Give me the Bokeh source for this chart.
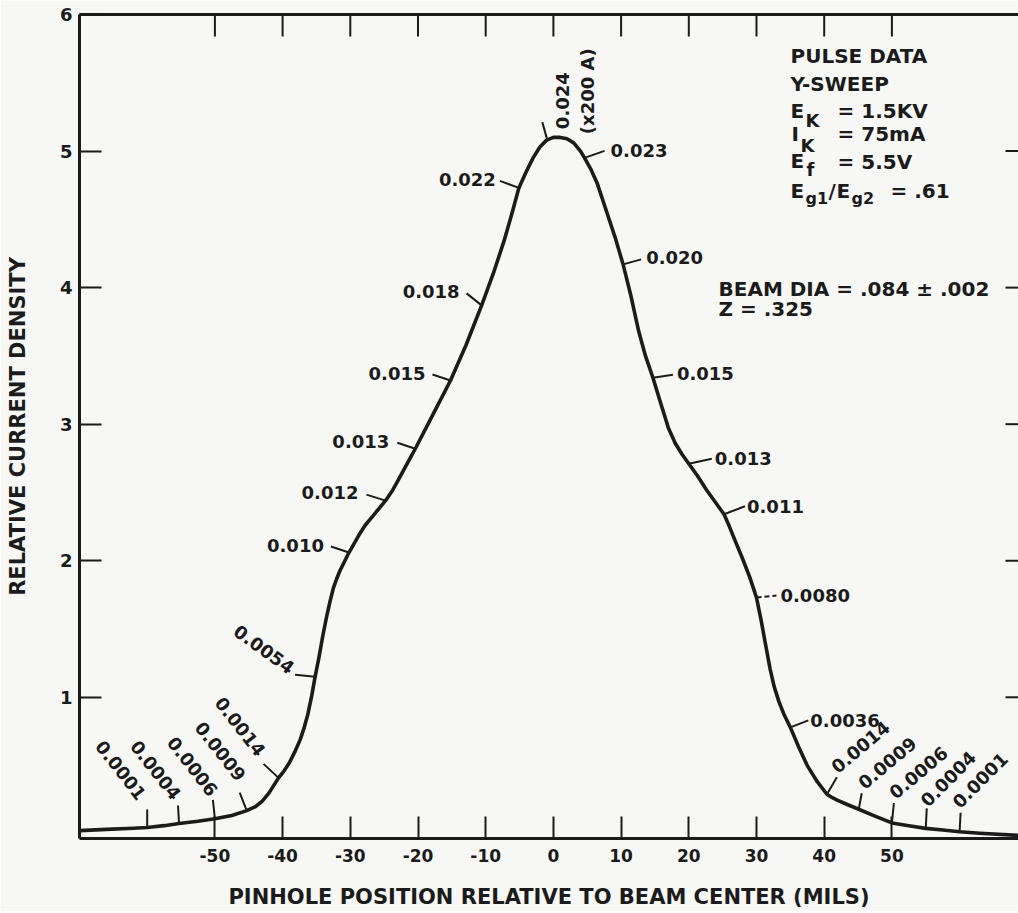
import math
from bokeh.plotting import figure
from bokeh.models import LinearAxis, FixedTicker
from bokeh.embed import file_html
from bokeh.resources import INLINE
from bokeh.core.properties import value

# ---------------- data ----------------
# pinhole position (mils) and relative current density along the measured profile
profile_x = [-70, -66, -62, -60, -57.5, -55.3, -52.5, -50, -47.5, -45.3, -44, -43, -42, -40.6,
             -39.8, -39, -38.2, -37.4, -36.8, -36.3, -35.7, -35.2, -34.6, -34.1, -33.5, -33,
             -32.5, -32, -31.5, -31, -30.2, -29.5, -28.7, -27.8, -26.8, -25.8, -24.8, -23.7,
             -22.6, -21.5, -20.4, -17.8, -15.2, -12.9, -10.6, -8.9, -7.3, -6.2, -5.1, -4, -3, -2,
             -1, 0, 1, 2, 3, 4, 4.6, 5.5, 6.5, 7.9, 9.1, 10.3, 11.4, 12.6, 13.6, 14.7, 16, 17,
             18, 19, 20, 21.3, 22.6, 23.9, 25.2, 26, 26.9, 27.9, 29, 30, 30.7, 31.4, 32, 32.6,
             33.3, 34.1, 35, 36.2, 37.5, 39, 40.4, 41.2, 42, 43.4, 45.1, 47.5, 50, 52.5, 55,
             57.5, 60, 63, 69]
profile_y = [0.024, 0.033, 0.041, 0.046, 0.06, 0.076, 0.092, 0.11, 0.135, 0.17, 0.2, 0.24, 0.3, 0.41,
             0.46, 0.52, 0.60, 0.69, 0.78, 0.87, 1.01, 1.15, 1.30, 1.44, 1.59, 1.70,
             1.80, 1.87, 1.93, 1.98, 2.06, 2.12, 2.19, 2.26, 2.32, 2.38, 2.44, 2.52,
             2.62, 2.72, 2.82, 3.07, 3.32, 3.58, 3.87, 4.10, 4.34, 4.53, 4.73, 4.85, 4.95, 5.03,
             5.08, 5.10, 5.10, 5.09, 5.06, 5.00, 4.95, 4.87, 4.76, 4.55, 4.37, 4.17, 3.95, 3.68,
             3.50, 3.34, 3.13, 2.97, 2.86, 2.78, 2.71, 2.62, 2.52, 2.43, 2.34, 2.25, 2.14, 2.02,
             1.88, 1.73, 1.56, 1.37, 1.21, 1.08, 0.97, 0.87, 0.78, 0.64, 0.50, 0.38, 0.29, 0.265,
             0.245, 0.215, 0.18, 0.13, 0.08, 0.06, 0.04, 0.028, 0.015, 0.005, -0.012]

# measured pinhole currents (x200 A) written along the curve
mark_x = [-60, -55.3, -50, -45.3, -40.6, -35.2, -30.2, -24.8, -20.4, -15.2, -10.6, -5.1, -0.9,
          4.6, 10.3, 14.7, 20, 25.2, 30, 35, 40.4, 45.1, 50, 55, 60]
mark_y = [0.046, 0.076, 0.11, 0.17, 0.41, 1.15, 2.06, 2.44, 2.82, 3.32, 3.87, 4.73, 5.08,
          4.95, 4.17, 3.34, 2.71, 2.34, 1.73, 0.78, 0.29, 0.18, 0.08, 0.04, 0.015]
mark_label = ["0.0001", "0.0004", "0.0006", "0.0009", "0.0014", "0.0054", "0.010", "0.012",
              "0.013", "0.015", "0.018", "0.022", "0.024", "0.023", "0.020", "0.015", "0.013",
              "0.011", "0.0080", "0.0036", "0.0014", "0.0009", "0.0006", "0.0004", "0.0001"]
peak_note = "(x200 A)"

x_ticks = [-50, -40, -30, -20, -10, 0, 10, 20, 30, 40, 50]
x_tick_labels = ["-50", "-40", "-30", "-20", "-10", "0", "10", "20", "30", "40", "50"]
y_ticks = [1, 2, 3, 4, 5, 6]
y_tick_labels = ["1", "2", "3", "4", "5", "6"]

x_title = "PINHOLE POSITION RELATIVE TO BEAM CENTER (MILS)"
y_title = "RELATIVE CURRENT DENSITY"

info_text = ["PULSE DATA", "Y-SWEEP", "E", "K", "= 1.5KV", "I", "K", "= 75mA", "E", "f", "= 5.5V",
             "E", "g1", "/", "E", "g2", "= .61", "BEAM DIA = .084 \u00b1 .002", "Z = .325"]

# ---------------- layout / style ----------------
INK = "#1b1b1b"
BG = "#f7f7f5"
FONT = "DejaVu Sans"
FRAME_LEFT, FRAME_TOP = 79, 14
FRAME_W, FRAME_H = 939, 824
X0 = -70.0
SX = 6.77
X1 = X0 + FRAME_W / SX
Y0, Y1 = -0.034, 6.0
SY = FRAME_H / (Y1 - Y0)
TOP_TICK, RIGHT_TICK = 22, 13


def page_to_data(px, py):
    return X0 + (px - FRAME_LEFT) / SX, Y1 - (py - FRAME_TOP) / SY


# per mark: tick offset (px, up positive), label anchor offset (px), group
mark_layout = [
    ((0, 18), (-5, 30), "LT"), ((-1, 18), (-2, 26), "LT"), ((-2, 19), (-1, 25), "LT"),
    ((-7, 18), (-5, 32), "LT"), ((-15, 14), (-17, 24), "LT"),
    ((-20, 2), (-23, 7), "L54"),
    ((-18, 6), (-25, 7), "L"), ((-19, 6), (-27, 8), "L"), ((-18, 6), (-26, 7), "L"),
    ((-18, 6), (-25, 7), "L"), ((-15, 12), (-22, 14), "L"), ((-19, 7), (-23, 8), "L"),
    ((-5, 18), (15, 11), "TOP"),
    ((20, 7), (26, 7), "R"), ((18, 5), (23, 7), "R"), ((20, 3), (24, 4), "R"),
    ((23, 5), (26, 5), "R"), ((21, 8), (23, 8), "R"), ((20, 2), (24, 2), "R"),
    ((18, 7), (20, 7), "R"),
    ((10, 17), (7, 25), "RT"), ((3, 16), (2, 24), "RT"), ((2, 20), (0, 28), "RT"),
    ((1, 20), (-2, 25), "RT45"), ((1, 19), (-4, 27), "RT45"),
]
group_style = {
    "LT": dict(angle=-52, align="right"),
    "L54": dict(angle=-36, align="right"),
    "L": dict(angle=0, align="right"),
    "TOP": dict(angle=90, align="left"),
    "R": dict(angle=0, align="left"),
    "RT": dict(angle=40, align="left"),
    "RT45": dict(angle=45, align="left"),
}
peak_note_offset = (40, 6)

# info block: (left px, baseline px, font px) in page coordinates
info_pos = [(790, 62, 20), (790, 90, 20), (790, 117, 20), (805, 126, 18), (837, 117, 20),
            (791, 140, 20), (800, 151, 18), (837, 140, 20), (790, 167, 20), (806, 175, 18),
            (837, 168, 20), (790, 197, 20), (805, 204, 16), (828, 197, 20), (836, 197, 20),
            (851, 204, 16), (890, 197, 20), (718, 295, 20), (718, 315, 20)]

p = figure(frame_width=FRAME_W, frame_height=FRAME_H, x_range=(X0, X1), y_range=(Y0, Y1),
           output_backend="svg", toolbar_location=None,
           min_border_left=FRAME_LEFT, min_border_top=FRAME_TOP, min_border_right=0,
           min_border_bottom=0)
p.background_fill_color = BG
p.border_fill_color = BG
p.outline_line_color = None
p.xgrid.visible = False
p.ygrid.visible = False

# bottom axis
xa = p.xaxis[0]
xa.ticker = FixedTicker(ticks=x_ticks)
xa.major_label_overrides = {t: l for t, l in zip(x_ticks, x_tick_labels)}
xa.axis_label = x_title
# left axis
ya = p.yaxis[0]
ya.ticker = FixedTicker(ticks=y_ticks)
ya.major_label_overrides = {t: l for t, l in zip(y_ticks, y_tick_labels)}
ya.axis_label = y_title

for ax in (xa, ya):
    ax.axis_line_width = 3
    ax.axis_line_color = INK
    ax.major_tick_in = 22
    ax.major_tick_out = 0
    ax.major_tick_line_width = 2
    ax.major_tick_line_color = INK
    ax.minor_tick_line_color = None
    ax.major_label_text_font = FONT
    ax.major_label_text_font_style = "bold"
    ax.major_label_text_color = INK
    ax.axis_label_text_font = FONT
    ax.axis_label_text_font_style = "bold"
    ax.axis_label_text_font_size = "21px"
    ax.axis_label_text_color = INK
xa.major_label_text_font_size = "17px"
xa.major_label_standoff = 10
xa.axis_label_standoff = 20
ya.major_label_text_font_size = "18px"
ya.major_label_standoff = 7
ya.axis_label_standoff = 27

# top border line (no labels)
top = LinearAxis(ticker=FixedTicker(ticks=[]), axis_line_width=3, axis_line_color=INK,
                 major_tick_line_color=None, minor_tick_line_color=None)
p.add_layout(top, "above")

# inward ticks on the top and right edges
p.segment(x_ticks, [Y1] * len(x_ticks), x_ticks, [Y1 - TOP_TICK / SY] * len(x_ticks),
          line_width=2, line_color=INK)
ry = y_ticks[:-1]
p.segment([X1 - RIGHT_TICK / SX] * len(ry), ry, [X1] * len(ry), ry, line_width=2, line_color=INK)

# profile curve
p.line(profile_x, profile_y, line_width=3.6, line_color=INK, line_join="round", line_cap="round")

# marks: ticks and labels
seg = {"solid": ([], [], [], []), "dash": ([], [], [], [])}
groups = {}
for i, (mx, my, lab) in enumerate(zip(mark_x, mark_y, mark_label)):
    (tdx, tdy), (ldx, ldy), g = mark_layout[i]
    key = "dash" if lab == "0.0080" else "solid"
    seg[key][0].append(mx)
    seg[key][1].append(my)
    seg[key][2].append(mx + tdx / SX)
    seg[key][3].append(my + tdy / SY)
    groups.setdefault(g, ([], [], []))
    groups[g][0].append(mx + ldx / SX)
    groups[g][1].append(my + ldy / SY)
    groups[g][2].append(lab)
    if g == "TOP":
        groups[g][0].append(mx + peak_note_offset[0] / SX)
        groups[g][1].append(my + peak_note_offset[1] / SY)
        groups[g][2].append(peak_note)

p.segment(seg["solid"][0], seg["solid"][1], seg["solid"][2], seg["solid"][3],
          line_width=2, line_color=INK)
p.segment(seg["dash"][0], seg["dash"][1], seg["dash"][2], seg["dash"][3],
          line_width=2, line_color=INK, line_dash="5 3")

for g, (gx, gy, gt) in groups.items():
    st = group_style[g]
    p.text(gx, gy, text=gt, angle=math.radians(st["angle"]), text_align=st["align"],
           text_baseline="middle", text_font=value(FONT), text_font_style="bold",
           text_font_size="18px", text_color=INK)

# info block (positions given as baselines; text drawn centred on its x-height middle)
for t, (px, py, fs) in zip(info_text, info_pos):
    dx, dy = page_to_data(px, py - 0.35 * fs)
    p.text([dx], [dy], text=[t], text_align="left", text_baseline="middle",
           text_font=value(FONT), text_font_style="bold", text_font_size=f"{fs}px",
           text_color=INK)

html = file_html(p, INLINE, title="Beam current density profile")
html = html.replace("<body>", f'<body style="background-color:{BG};">', 1)
open("out.html", "w").write(html)
